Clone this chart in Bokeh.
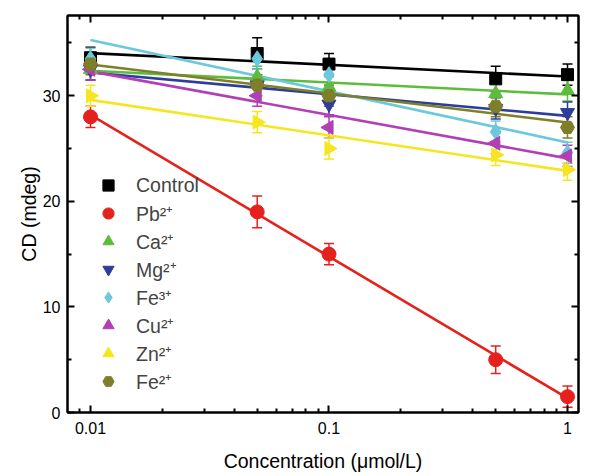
import numpy as np
from bokeh.plotting import figure
from bokeh.models import (ColumnDataSource, Whisker, TeeHead, LogAxis, LinearAxis,
                          FixedTicker, Legend, LegendItem, Range1d)
from bokeh.embed import file_html
from bokeh.resources import INLINE

# ---------------- data ----------------
conc = [0.01, 0.05, 0.1, 0.5, 1.0]
x_ticks = [0.01, 0.1, 1]
x_tick_labels = ["0.01", "0.1", "1"]
y_ticks = [0, 10, 20, 30]
y_minor = [5, 15, 25, 35]

control = [33.6, 34.0, 33.0, 31.6, 32.0]
control_err = [1.0, 1.5, 1.0, 1.2, 1.0]
pb = [28.0, 19.0, 15.0, 5.0, 1.5]
pb_err = [1.0, 1.5, 1.0, 1.3, 1.0]
ca = [32.5, 31.8, 30.8, 30.2, 30.5]
ca_err = [1.0, 1.0, 1.0, 1.0, 1.0]
mg = [32.5, 31.0, 29.2, 28.8, 28.4]
mg_err = [1.0, 1.0, 1.0, 1.0, 1.0]
fe3 = [33.5, 33.5, 32.0, 26.6, 24.6]
fe3_err = [1.0, 1.0, 1.0, 1.0, 1.0]
cu = [32.5, 30.0, 27.0, 25.5, 24.3]
cu_err = [1.0, 1.0, 1.0, 1.0, 1.0]
zn = [30.0, 27.5, 25.0, 24.4, 23.0]
zn_err = [1.0, 1.0, 1.0, 1.0, 1.0]
fe2 = [33.0, 31.0, 30.0, 29.0, 27.0]
fe2_err = [1.0, 1.0, 1.0, 1.0, 1.0]

series = [
    ("Control", control, control_err, "#000000", "square", 0.0, 12),
    ("Pb\u00b2\u207a", pb, pb_err, "#e6201c", "circle", 0.0, 14),
    ("Ca\u00b2\u207a", ca, ca_err, "#5cbd3c", "triangle", 0.0, 14),
    ("Mg\u00b2\u207a", mg, mg_err, "#2e3d99", "inverted_triangle", 0.0, 14),
    ("Fe\u00b3\u207a", fe3, fe3_err, "#6cc8dc", "diamond", 0.0, 16),
    ("Cu\u00b2\u207a", cu, cu_err, "#b13fb5", "triangle", np.pi / 2, 14),
    ("Zn\u00b2\u207a", zn, zn_err, "#f5e61e", "triangle", -np.pi / 2, 14),
    ("Fe\u00b2\u207a", fe2, fe2_err, "#7f7f2a", "hex", 0.0, 14),
]

FONT = "Liberation Sans"

p = figure(width=590, height=474, x_axis_type="log",
           x_range=Range1d(0.00801, 1.112), y_range=Range1d(0, 37.6),
           output_backend="svg", toolbar_location=None,
           min_border_left=67, min_border_right=12, min_border_top=15,
           min_border_bottom=59)
p.xgrid.visible = False
p.ygrid.visible = False
p.outline_line_color = "black"
p.outline_line_width = 2
p.background_fill_color = "white"
p.border_fill_color = "white"

# fit lines first
logc = np.log10(np.array(conc))
for name, vals, err, col, mk, ang, sz in series:
    k, b = np.polyfit(logc, np.array(vals), 1)
    xs = [conc[0], conc[-1]]
    ys = [k * np.log10(conc[0]) + b, k * np.log10(conc[-1]) + b]
    p.line(xs, ys, line_color=col, line_width=2.6)

items = []
for name, vals, err, col, mk, ang, sz in series:
    src = ColumnDataSource(dict(x=conc, y=vals,
                                upper=[v + e for v, e in zip(vals, err)],
                                lower=[v - e for v, e in zip(vals, err)]))
    w = Whisker(source=src, base="x", upper="upper", lower="lower",
                line_color=col, line_width=1.5,
                upper_head=TeeHead(size=10, line_color=col, line_width=1.5),
                lower_head=TeeHead(size=10, line_color=col, line_width=1.5))
    p.add_layout(w)
    r = p.scatter("x", "y", source=src, marker=mk, angle=ang, size=sz,
                  fill_color=col, line_color=col)
    items.append(LegendItem(label=name, renderers=[r]))

legend = Legend(items=items, location=(26, 17), padding=0, margin=0,
                border_line_color=None, background_fill_alpha=0,
                glyph_width=30, glyph_height=28, label_height=28,
                spacing=0, label_standoff=13,
                label_text_font=FONT, label_text_font_size="19.5px")
p.add_layout(legend, "center")

# axes styling
def style(ax, labels=True):
    ax.axis_line_width = 2
    ax.axis_line_color = "black"
    ax.major_tick_in = 7
    ax.major_tick_out = 0
    ax.minor_tick_in = 4
    ax.minor_tick_out = 0
    ax.major_tick_line_width = 2
    ax.minor_tick_line_width = 2
    ax.major_tick_line_color = "black"
    ax.minor_tick_line_color = "black"
    ax.major_label_text_font = FONT
    ax.major_label_text_font_size = "16px"
    ax.major_label_text_color = "black"
    ax.axis_label_text_font = FONT
    ax.axis_label_text_font_size = "19.5px"
    ax.axis_label_text_font_style = "normal"
    ax.axis_label_text_color = "black"
    if not labels:
        ax.major_label_text_font_size = "1px"
        ax.major_label_text_alpha = 0
        ax.major_label_standoff = 0

minor_x = [m * d for d in [0.001, 0.01, 0.1] for m in range(2, 10)]
minor_x = [v for v in minor_x if v >= 0.0079]

xt = FixedTicker(ticks=x_ticks, minor_ticks=minor_x)
yt = FixedTicker(ticks=y_ticks, minor_ticks=y_minor)

xa = p.xaxis[0]
xa.ticker = xt
xa.major_label_overrides = {t: l for t, l in zip(x_ticks, x_tick_labels)}
xa.axis_label = "Concentration (\u03bcmol/L)"
style(xa)
xa.major_label_standoff = 9
xa.axis_label_standoff = 13

ya = p.yaxis[0]
ya.ticker = yt
ya.axis_label = "CD (mdeg)"
style(ya)
ya.major_label_standoff = 7
ya.axis_label_standoff = 0

top = LogAxis(ticker=xt)
style(top, labels=False)
p.add_layout(top, "above")
right = LinearAxis(ticker=yt)
style(right, labels=False)
p.add_layout(right, "right")

open("out.html", "w").write(file_html(p, INLINE))
